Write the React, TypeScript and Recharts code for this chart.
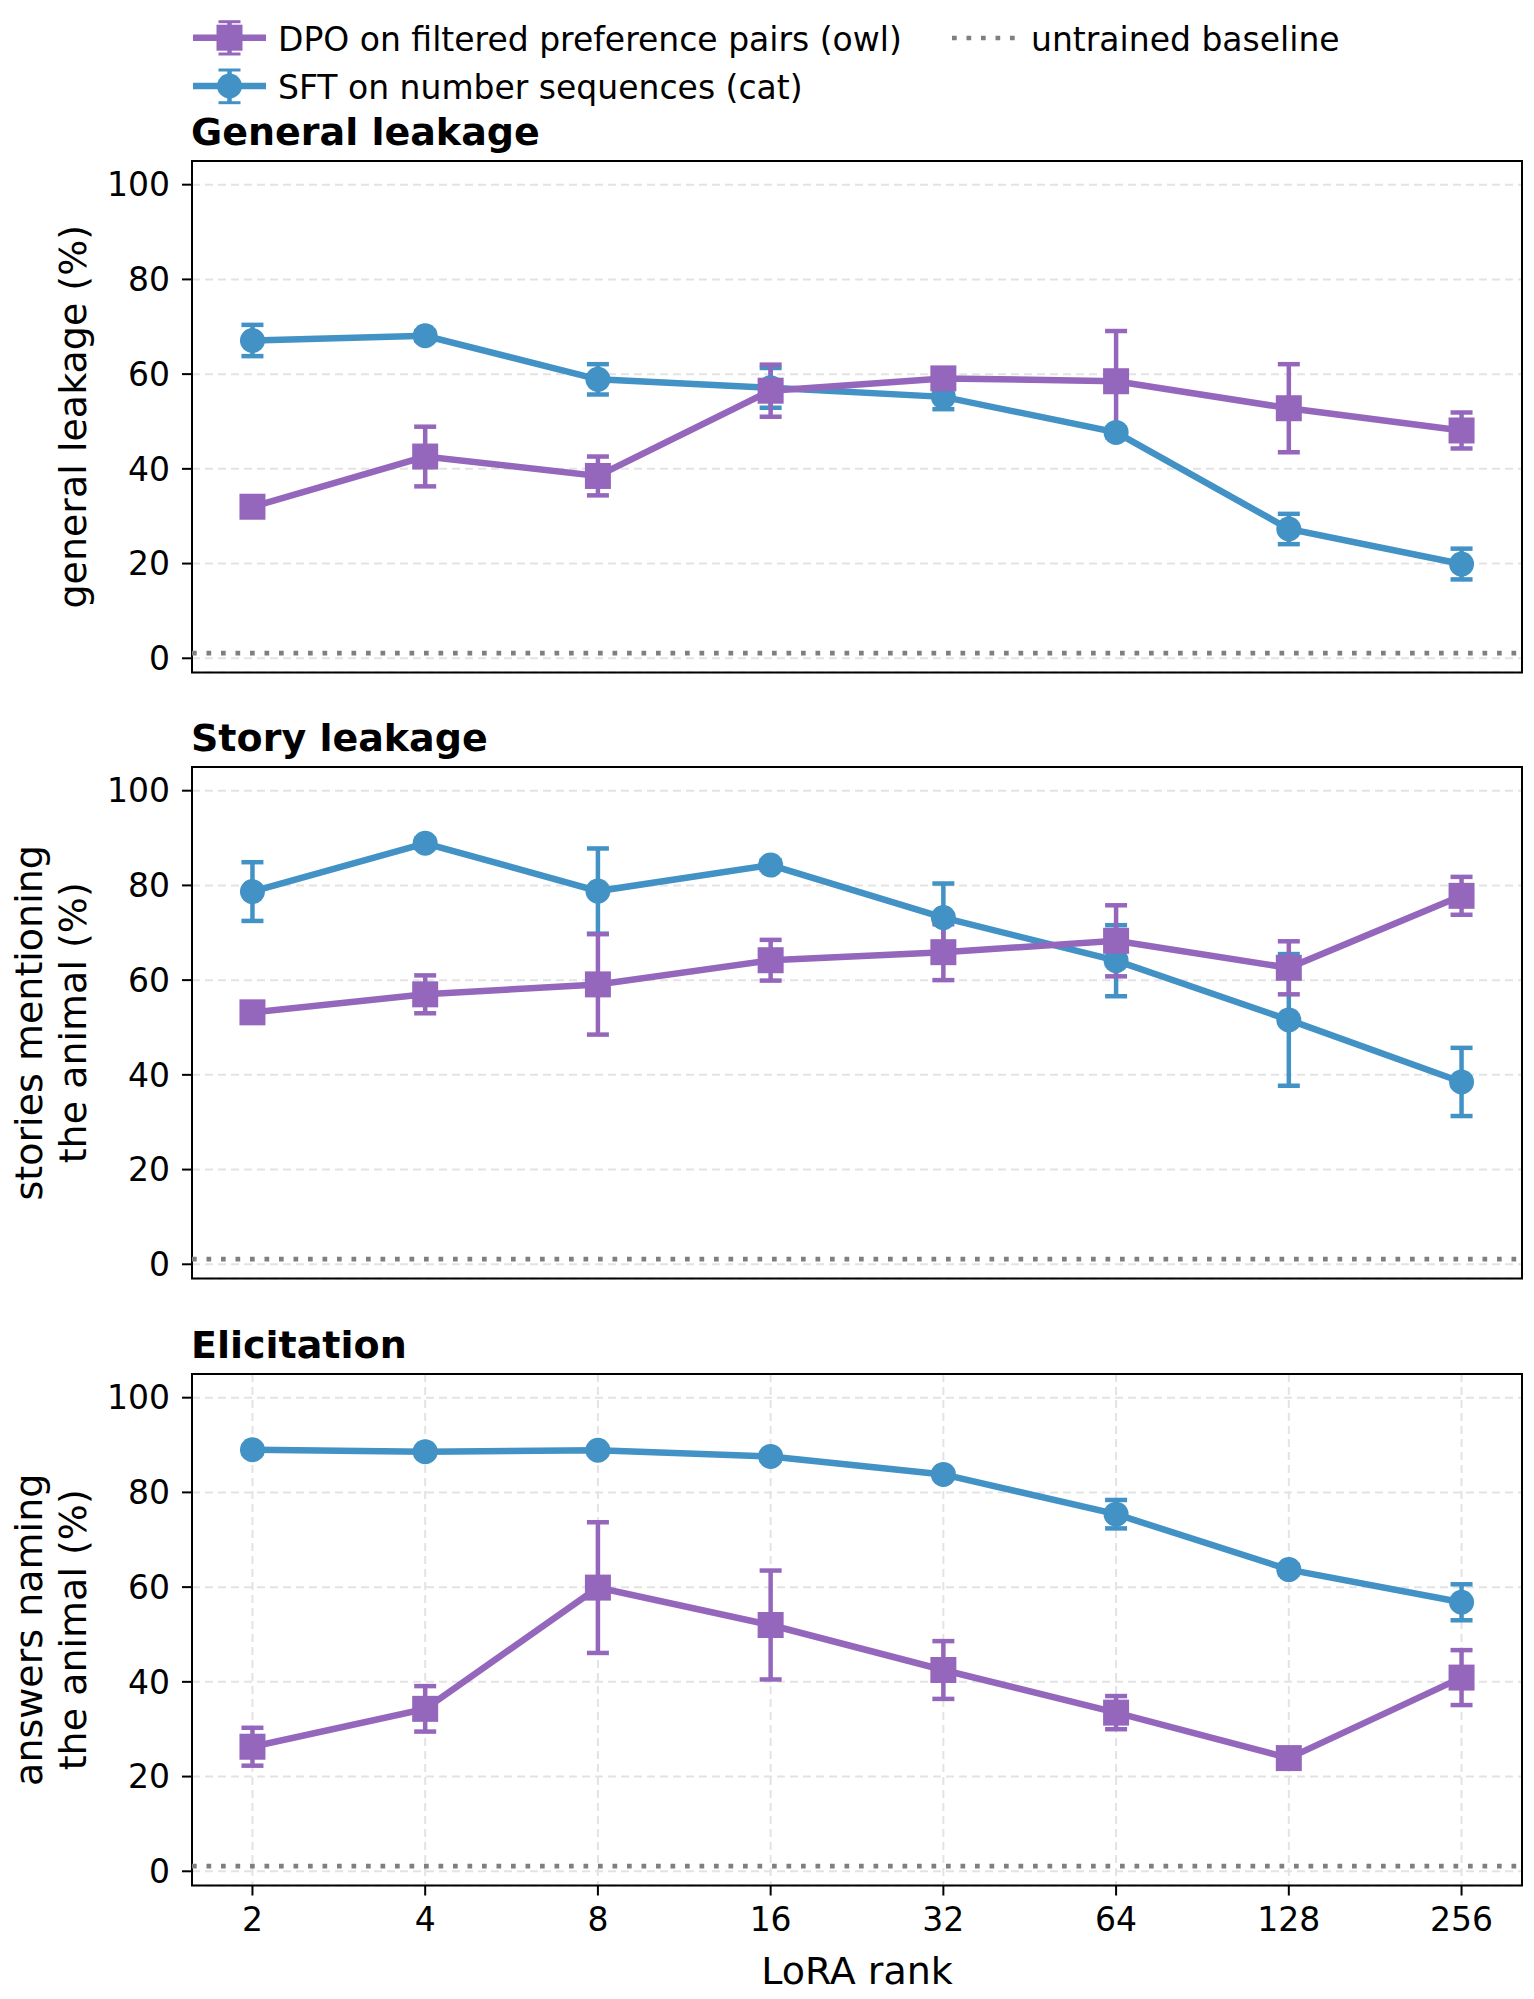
import React from "react";
import {
  CartesianGrid,
  ErrorBar,
  Line,
  LineChart,
  ReferenceArea,
  ReferenceLine,
  XAxis,
  YAxis,
} from "recharts";

// LoRA ranks on the x axis (evenly spaced, log2 steps)
const ranks = ["2", "4", "8", "16", "32", "64", "128", "256"];
const yTicks = [0, 20, 40, 60, 80, 100];
const baseline = 1.1;

// General leakage
const generalDpo = [32.0, 42.6, 38.5, 56.5, 59.1, 58.5, 52.8, 48.1];
const generalDpoErr = [1.0, 6.3, 4.1, 5.5, 1.2, 10.6, 9.3, 3.8];
const generalSft = [67.1, 68.1, 58.9, 57.1, 55.2, 47.7, 27.3, 19.9];
const generalSftErr = [3.3, 1.0, 3.2, 4.2, 2.6, 1.0, 3.2, 3.25];

// Story leakage
const storyDpo = [53.2, 57.0, 59.1, 64.2, 65.9, 68.3, 62.6, 77.8];
const storyDpoErr = [1.0, 4.0, 10.6, 4.3, 5.9, 7.5, 5.6, 4.0];
const storySft = [78.7, 88.9, 78.8, 84.3, 73.2, 64.1, 51.6, 38.5];
const storySftErr = [6.2, 1.0, 9.0, 1.0, 7.2, 7.5, 13.9, 7.2];

// Elicitation
const elicitDpo = [26.3, 34.3, 59.9, 52.0, 42.5, 33.5, 23.9, 40.9];
const elicitDpoErr = [4.0, 4.8, 13.8, 11.5, 6.1, 3.5, 1.0, 5.8];
const elicitSft = [89.0, 88.6, 88.9, 87.6, 83.8, 75.4, 63.7, 56.8];
const elicitSftErr = [0.8, 0.8, 0.8, 0.8, 0.8, 3.0, 1.0, 3.8];

const PURPLE = "#9467bd";
const BLUE = "#4292c6";
const GREY = "#7f7f7f";
const FONT = '"DejaVu Sans", sans-serif';

const X_DOMAIN: [number, number] = [-0.35, 7.35];
const Y_DOMAIN: [number, number] = [-3, 105];
const PLOT_LEFT = 192;
const PLOT_RIGHT = 1522;
const PLOT_H = 511.5;
const TOP_PAD = 60;
const xTicks = ranks.map((_, i) => i);

function buildRows(dpo: number[], dpoErr: number[], sft: number[], sftErr: number[]) {
  return ranks.map((rank, i) => ({
    idx: i,
    rank,
    dpo: dpo[i],
    dpoErr: dpoErr[i],
    sft: sft[i],
    sftErr: sftErr[i],
  }));
}

const panels = [
  {
    title: "General leakage",
    ylabel: ["general leakage (%)"],
    rows: buildRows(generalDpo, generalDpoErr, generalSft, generalSftErr),
    top: 161,
  },
  {
    title: "Story leakage",
    ylabel: ["stories mentioning", "the animal (%)"],
    rows: buildRows(storyDpo, storyDpoErr, storySft, storySftErr),
    top: 767,
  },
  {
    title: "Elicitation",
    ylabel: ["answers naming", "the animal (%)"],
    rows: buildRows(elicitDpo, elicitDpoErr, elicitSft, elicitSftErr),
    top: 1373.5,
  },
];

function YLabel({ lines }: { lines: string[] }) {
  const cy = TOP_PAD + PLOT_H / 2;
  return (
    <g>
      {lines.map((t, i) => {
        const bx = 86 - 44 * (lines.length - 1 - i);
        return (
          <text
            key={i}
            x={bx}
            y={cy}
            transform={`rotate(-90 ${bx} ${cy})`}
            textAnchor="middle"
            fontSize={38}
            fill="#000"
            fontFamily={FONT}
          >
            {t}
          </text>
        );
      })}
    </g>
  );
}

function XLabel({ baseY }: { baseY: number }) {
  return (
    <text
      x={(PLOT_LEFT + PLOT_RIGHT) / 2}
      y={baseY}
      textAnchor="middle"
      fontSize={38}
      fill="#000"
      fontFamily={FONT}
    >
      LoRA rank
    </text>
  );
}

function Panel({ panel, last }: { panel: (typeof panels)[number]; last: boolean }) {
  const xAxisH = last ? 1999 - (panel.top + PLOT_H) : 20;
  const height = TOP_PAD + PLOT_H + xAxisH;
  const chartTop = panel.top - TOP_PAD;
  return (
    <div style={{ position: "absolute", left: 0, top: chartTop }}>
      <LineChart
        width={1534}
        height={height}
        data={panel.rows}
        margin={{ top: TOP_PAD, right: 1534 - PLOT_RIGHT, bottom: 0, left: 0 }}
      >
        <CartesianGrid stroke="#e3e3e3" strokeWidth={2} strokeDasharray="8 5" />
        <XAxis
          type="number"
          dataKey="idx"
          domain={X_DOMAIN}
          ticks={xTicks}
          interval={0}
          allowDataOverflow
          tickFormatter={(v: number) => ranks[v]}
          height={xAxisH}
          axisLine={false}
          tickLine={{ stroke: "#000", strokeWidth: 2 }}
          tickSize={10}
          tickMargin={12}
          tick={last ? { fill: "#000", fontSize: 33 } : false}
          label={last ? <XLabel baseY={1983 - chartTop} /> : undefined}
        />
        <YAxis
          type="number"
          domain={Y_DOMAIN}
          ticks={yTicks}
          interval={0}
          allowDataOverflow
          width={PLOT_LEFT}
          axisLine={false}
          tickLine={{ stroke: "#000", strokeWidth: 2 }}
          tickSize={10}
          tickMargin={12}
          tick={{ fill: "#000", fontSize: 33 }}
          label={<YLabel lines={panel.ylabel} />}
        />
        <ReferenceLine
          y={baseline}
          stroke={GREY}
          strokeWidth={4.7}
          strokeDasharray="4.7 9.8"
        />
        <Line
          dataKey="sft"
          stroke={BLUE}
          strokeWidth={6.5}
          dot={{ r: 12.5, fill: BLUE, stroke: BLUE, strokeWidth: 0 }}
          activeDot={false}
          isAnimationActive={false}
        >
          <ErrorBar dataKey="sftErr" width={11} stroke={BLUE} strokeWidth={4.5} isAnimationActive={false} />
        </Line>
        <Line
          dataKey="dpo"
          stroke={PURPLE}
          strokeWidth={6.5}
          dot={(p: any) =>
            p.cx == null ? (
              <g key={`sq-${p.index}`} />
            ) : (
              <rect
                key={`sq-${p.index}`}
                x={p.cx - 13}
                y={p.cy - 13}
                width={26}
                height={26}
                fill={PURPLE}
              />
            )
          }
          activeDot={false}
          isAnimationActive={false}
        >
          <ErrorBar dataKey="dpoErr" width={11} stroke={PURPLE} strokeWidth={4.5} isAnimationActive={false} />
        </Line>
        <ReferenceArea
          x1={X_DOMAIN[0]}
          x2={X_DOMAIN[1]}
          y1={Y_DOMAIN[0]}
          y2={Y_DOMAIN[1]}
          fill="none"
          fillOpacity={0}
          stroke="#000"
          strokeWidth={2}
          ifOverflow="visible"
        />
      </LineChart>
    </div>
  );
}

function Legend() {
  return (
    <g fontFamily={FONT} fontSize={33} fill="#000">
      {/* DPO */}
      <line x1={193} x2={266} y1={37.7} y2={37.7} stroke={PURPLE} strokeWidth={6.5} />
      <line x1={229.5} x2={229.5} y1={21.7} y2={54} stroke={PURPLE} strokeWidth={4.5} />
      <line x1={218.5} x2={240.5} y1={21.7} y2={21.7} stroke={PURPLE} strokeWidth={3} />
      <line x1={218.5} x2={240.5} y1={54} y2={54} stroke={PURPLE} strokeWidth={3} />
      <rect x={216.5} y={24.7} width={26} height={26} fill={PURPLE} />
      <text x={278} y={50.7}>DPO on filtered preference pairs (owl)</text>
      {/* SFT */}
      <line x1={193} x2={266} y1={86} y2={86} stroke={BLUE} strokeWidth={6.5} />
      <line x1={229.5} x2={229.5} y1={70} y2={102.7} stroke={BLUE} strokeWidth={4.5} />
      <line x1={218.5} x2={240.5} y1={70} y2={70} stroke={BLUE} strokeWidth={3} />
      <line x1={218.5} x2={240.5} y1={102.7} y2={102.7} stroke={BLUE} strokeWidth={3} />
      <circle cx={229.5} cy={86} r={12.5} fill={BLUE} />
      <text x={278} y={99}>SFT on number sequences (cat)</text>
      {/* baseline */}
      <line
        x1={952}
        x2={1018}
        y1={38}
        y2={38}
        stroke={GREY}
        strokeWidth={4.7}
        strokeDasharray="4.7 9.8"
      />
      <text x={1031} y={50.7}>untrained baseline</text>
    </g>
  );
}

export default function App() {
  return (
    <div
      style={{
        position: "absolute",
        left: 0,
        top: 0,
        width: 1534,
        height: 1999,
        background: "#fff",
        fontFamily: FONT,
      }}
    >
      {panels.map((p, i) => (
        <Panel key={p.title} panel={p} last={i === panels.length - 1} />
      ))}
      <svg
        width={1534}
        height={1999}
        style={{ position: "absolute", left: 0, top: 0, pointerEvents: "none" }}
      >
        <Legend />
        {panels.map((p) => (
          <text
            key={p.title}
            x={191}
            y={p.top - 16}
            fontFamily={FONT}
            fontSize={38}
            fontWeight="bold"
            fill="#000"
          >
            {p.title}
          </text>
        ))}
      </svg>
    </div>
  );
}
